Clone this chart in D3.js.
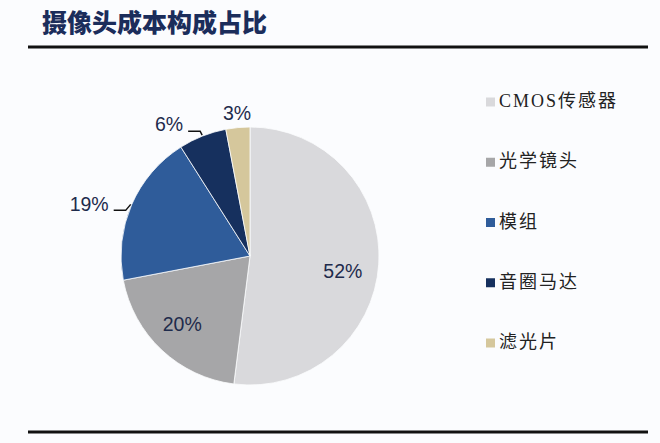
<!DOCTYPE html>
<meta charset="utf-8">
<script src="https://d3js.org/d3.v7.min.js"></script>
<style>
  body { margin: 0; background: #fbfcfe; }
</style>
<div id="my_dataviz"></div>
<script>

// data
var categories = ["CMOS传感器", "光学镜头", "模组", "音圈马达", "滤光片"];
var shares = [52, 20, 19, 6, 3];
var colors = ["#d9d9dc", "#a6a6a8", "#2f5c9a", "#16305e", "#d5c79c"];
var outsideLabels = ["模组", "音圈马达", "滤光片"];

var width = 660, height = 443;

var svg = d3.select("#my_dataviz")
  .append("svg")
    .attr("width", width)
    .attr("height", height)
    .style("background", "#fbfcfe");

// title + rules
svg.append("text")
  .attr("x", 42)
  .attr("y", 32)
  .style("font-family", "'Noto Sans CJK SC', sans-serif")
  .style("font-weight", "900")
  .style("font-size", "25px")
  .style("letter-spacing", "0px")
  .style("fill", "#1b2d5b")
  .text("摄像头成本构成占比");

svg.append("line")
  .attr("x1", 28).attr("x2", 648)
  .attr("y1", 47).attr("y2", 47)
  .attr("stroke", "#111").attr("stroke-width", 3);

svg.append("line")
  .attr("x1", 28).attr("x2", 648)
  .attr("y1", 432).attr("y2", 432)
  .attr("stroke", "#111").attr("stroke-width", 3);

// pie
var cx = 250, cy = 256, r = 129;
var data = categories.map(function(c, i) { return {name: c, value: shares[i]}; });

var color = d3.scaleOrdinal().domain(categories).range(colors);

var pie = d3.pie().sort(null).value(function(d) { return d.value; });
var arcs = pie(data);

var arc = d3.arc().innerRadius(0).outerRadius(r);
var labelArc = d3.arc().innerRadius(96).outerRadius(96);

var g = svg.append("g").attr("transform", "translate(" + cx + "," + cy + ")");

g.selectAll("path")
  .data(arcs)
  .enter()
  .append("path")
    .attr("d", arc)
    .attr("fill", function(d) { return color(d.data.name); })
    .attr("stroke", "#fbfcfe")
    .attr("stroke-width", 0.8);

var labelFont = "'Liberation Sans', Arial, sans-serif";

// inside labels
g.selectAll("inLabels")
  .data(arcs.filter(function(d) { return outsideLabels.indexOf(d.data.name) < 0; }))
  .enter()
  .append("text")
    .attr("transform", function(d) {
      var c = labelArc.centroid(d);
      var nudge = d.data.name === "CMOS传感器" ? [-3, 16] : [-2, 5];
      return "translate(" + (c[0] + nudge[0]) + "," + (c[1] + nudge[1]) + ")";
    })
    .attr("text-anchor", "middle")
    .style("font-family", labelFont)
    .style("font-size", "19.5px")
    .style("fill", "#1e2b4c")
    .text(function(d) { return d.data.value + "%"; });

// outside labels with leader lines
function midAngle(d) { return (d.startAngle + d.endAngle) / 2; }
function pt(a, rad) { return [Math.sin(a) * rad, -Math.cos(a) * rad]; }

arcs.filter(function(d) { return outsideLabels.indexOf(d.data.name) >= 0; }).forEach(function(d) {
  var a = midAngle(d);
  if (d.data.name === "滤光片") {
    var p = pt(a, r + 8);
    g.append("text")
      .attr("x", p[0]).attr("y", p[1])
      .attr("text-anchor", "middle")
      .style("font-family", labelFont)
      .style("font-size", "19.5px")
      .style("fill", "#1e2b4c")
      .text(d.data.value + "%");
    return;
  }
  var s = pt(a, r + 1);
  var e = d.data.name === "模组" ? [s[0] - 5, s[1] + 6] : [s[0] - 2, s[1] - 4];
  var t = [e[0] - 12, e[1]];
  g.append("path")
    .attr("d", d3.line()([s, e, t]))
    .attr("fill", "none")
    .attr("stroke", "#111")
    .attr("stroke-width", 1.5);
  g.append("text")
    .attr("x", t[0] - 5).attr("y", t[1] - 5)
    .attr("text-anchor", "end")
    .attr("dominant-baseline", "middle")
    .style("font-family", labelFont)
    .style("font-size", "19.5px")
    .style("fill", "#1e2b4c")
    .text(d.data.value + "%");
});

// legend
var legendY = d3.scalePoint().domain(categories).range([102, 343]);

var legend = svg.selectAll("legendRows")
  .data(categories)
  .enter()
  .append("g")
    .attr("transform", function(d) { return "translate(486," + legendY(d) + ")"; });

legend.append("rect")
  .attr("x", 0).attr("y", -4.5)
  .attr("width", 9).attr("height", 9)
  .attr("fill", function(d) { return color(d); });

legend.append("text")
  .attr("x", 13).attr("y", 1)
  .attr("dominant-baseline", "middle")
  .style("font-family", "'Liberation Serif', 'Noto Sans CJK SC', serif")
  .style("font-size", "18px")
  .style("letter-spacing", "2px")
  .style("fill", "#222")
  .text(function(d) { return d; });

</script>
